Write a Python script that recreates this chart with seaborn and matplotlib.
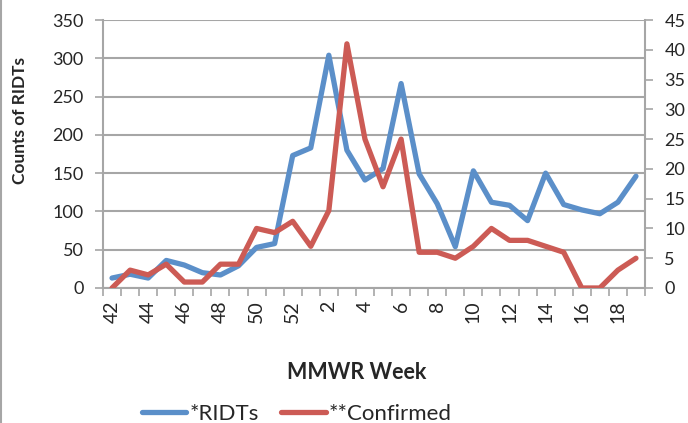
import matplotlib
matplotlib.use("Agg")
import matplotlib.pyplot as plt
import matplotlib.lines as mlines
import seaborn as sns
import pandas as pd
import numpy as np

weeks = [42, 43, 44, 45, 46, 47, 48, 49, 50, 51, 52,
         1, 2, 3, 4, 5, 6, 7, 8, 9, 10, 11, 12, 13, 14, 15, 16, 17, 18, 19]
ridts = [13, 18, 13, 36, 30, 20, 17, 29, 53, 58, 173,
         183, 304, 180, 141, 156, 267, 149, 110, 54, 153, 112, 108, 88, 150, 109, 102, 97, 112, 146]
confirmed = [0, 3, 2.2, 4, 1, 1, 4, 4, 10, 9.3, 11.2,
             7, 13, 41, 25, 17, 25, 6, 6, 5, 7, 10, 8, 8, 7, 6, 0, 0, 3, 5]

sns.set_theme(style="white")
plt.rcParams['font.family'] = ['Lato', 'DejaVu Sans']

df = pd.DataFrame({"pos": np.arange(len(weeks)), "week": weeks,
                   "RIDTs": ridts, "Confirmed": confirmed})

W, H = 688, 423
fig = plt.figure(figsize=(W / 100, H / 100), dpi=100)
L, R, T, B = 103, 645, 20, 288
ax = fig.add_axes([L / W, 1 - B / H, (R - L) / W, (B - T) / H])
ax2 = ax.twinx()

blue = "#5B8FC9"
red = "#CC5B55"
gray = "#A6A6A6"
lw = 3.8

sns.lineplot(data=df, x="pos", y="RIDTs", ax=ax, color=blue, linewidth=lw, zorder=3)
sns.lineplot(data=df, x="pos", y="Confirmed", ax=ax2, color=red, linewidth=lw, zorder=3)

ax.set_ylim(0, 350)
ax.set_yticks(range(0, 351, 50))
ax2.set_ylim(0, 45)
ax2.set_yticks(range(0, 46, 5))
ax.set_xlim(-0.5, len(weeks) - 0.5)

# category boundaries as tick marks; labels at every other category
ax.set_xticks(np.arange(-0.5, len(weeks), 1.0))
ax.set_xticklabels([])
ax.set_xticks(np.arange(0, len(weeks), 2), minor=True)
ax.set_xticklabels([str(w) for w in weeks[::2]], minor=True, rotation=90, fontsize=14)
ax.tick_params(axis="x", which="major", length=6, color=gray, width=1.2, direction="out", bottom=True)
ax.tick_params(axis="x", which="minor", length=0, pad=9, bottom=True)

ax.tick_params(axis="y", length=6, color=gray, width=1.2, direction="out", left=True, labelsize=13, pad=8)
ax2.tick_params(axis="y", length=6, color=gray, width=1.2, direction="out", right=True, labelsize=13, pad=8)

ax.grid(axis="y", color=gray, linewidth=1.5)
ax.set_axisbelow(True)
ax.set_xlabel("")
ax.set_ylabel("")
ax2.set_ylabel("")

for a in (ax, ax2):
    a.spines["top"].set_visible(False)
    for s in ("left", "right", "bottom"):
        a.spines[s].set_color(gray)
        a.spines[s].set_linewidth(1.5)
ax.spines["right"].set_visible(False)
ax2.spines["left"].set_visible(False)
ax2.spines["bottom"].set_visible(False)

fig.text(20 / W, 1 - 120 / H, "Counts of RIDTs", rotation=90, ha="center", va="center",
         fontsize=12.5, fontweight="bold")
fig.text(357 / W, 1 - 372 / H, "MMWR Week", ha="center", va="center",
         fontsize=15.5, fontweight="bold")

handles = [mlines.Line2D([], [], color=blue, linewidth=lw),
           mlines.Line2D([], [], color=red, linewidth=lw)]
fig.legend(handles, ["*RIDTs", "**Confirmed"], loc="center", bbox_to_anchor=(297 / W, 1 - 414 / H),
           ncol=2, frameon=False, fontsize=16, handlelength=2.0, handletextpad=0.15, columnspacing=1.0)

# left border of the chart area
fig.add_artist(mlines.Line2D([1 / W, 1 / W], [0, 1], color=gray, linewidth=1.5, transform=fig.transFigure))

fig.savefig("out.png", dpi=100)
